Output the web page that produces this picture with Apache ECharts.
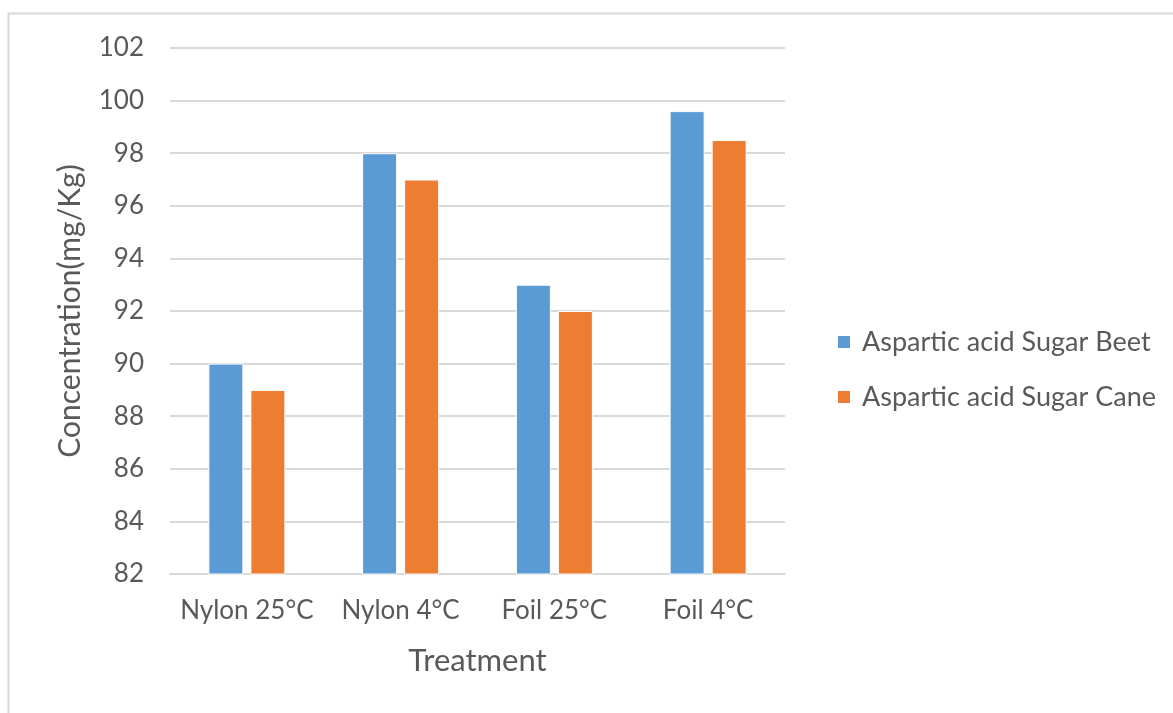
<!DOCTYPE html>
<html>
<head>
<meta charset="utf-8">
<style>
  html, body { margin: 0; padding: 0; background: #ffffff; }
  #chart { width: 1173px; height: 713px; }
</style>
<script src="https://cdn.jsdelivr.net/npm/echarts@6/dist/echarts.min.js"></script>
</head>
<body>
<div id="chart"></div>
<script>
// Treatment groups and measured aspartic acid concentrations (mg/Kg)
const categories = ['Nylon 25°C', 'Nylon 4°C', 'Foil 25°C', 'Foil 4°C'];
const seriesNames = ['Aspartic acid Sugar Beet', 'Aspartic acid Sugar Cane'];
const sugarBeet = [90, 98, 93, 99.6];
const sugarCane = [89, 97, 92, 98.5];
const yTicks = { min: 82, max: 102, step: 2 };

const FONT = 'Lato';
const TEXT = '#595959';
const GRID = '#d9d9d9';

const chart = echarts.init(document.getElementById('chart'), null, { renderer: 'canvas' });

chart.setOption({
  backgroundColor: '#ffffff',
  animation: false,
  textStyle: { fontFamily: FONT, color: TEXT },
  graphic: [{
    type: 'rect',
    shape: { x: 8.5, y: 13.5, width: 1180, height: 720 },
    style: { fill: 'none', stroke: GRID, lineWidth: 2 },
    silent: true,
    z: -1
  }],
  grid: { left: 170, right: 388, top: 48, bottom: 139 },
  legend: {
    orient: 'vertical',
    left: 831,
    top: 322,
    itemWidth: 14,
    itemHeight: 14,
    itemGap: 25,
    icon: 'rect',
    textStyle: { fontFamily: FONT, fontSize: 27, color: TEXT, padding: [0, 0, 0, 6], lineHeight: 30 },
    data: seriesNames
  },
  xAxis: {
    type: 'category',
    data: categories,
    name: 'Treatment',
    nameLocation: 'middle',
    nameGap: 71,
    nameTextStyle: { fontFamily: FONT, fontSize: 31, color: TEXT },
    axisLine: { lineStyle: { color: GRID, width: 2 } },
    axisTick: { show: false },
    axisLabel: { fontFamily: FONT, fontSize: 26, color: TEXT, margin: 24, interval: 0 }
  },
  yAxis: {
    type: 'value',
    min: yTicks.min,
    max: yTicks.max,
    interval: yTicks.step,
    name: 'Concentration(mg/Kg)',
    nameLocation: 'middle',
    nameGap: 85,
    nameRotate: 90,
    nameTextStyle: { fontFamily: FONT, fontSize: 30, color: TEXT },
    axisLine: { show: false },
    axisTick: { show: false },
    axisLabel: { fontFamily: FONT, fontSize: 26, color: TEXT, margin: 26 },
    splitLine: { lineStyle: { color: GRID, width: 2 } }
  },
  series: [
    {
      name: seriesNames[0],
      type: 'bar',
      data: sugarBeet,
      barWidth: 35,
      barGap: '20%',
      itemStyle: { color: '#5B9BD5', borderColor: '#ffffff', borderWidth: 1 }
    },
    {
      name: seriesNames[1],
      type: 'bar',
      data: sugarCane,
      barWidth: 35,
      barGap: '20%',
      itemStyle: { color: '#ED7D31', borderColor: '#ffffff', borderWidth: 1 }
    }
  ]
});
</script>
</body>
</html>
